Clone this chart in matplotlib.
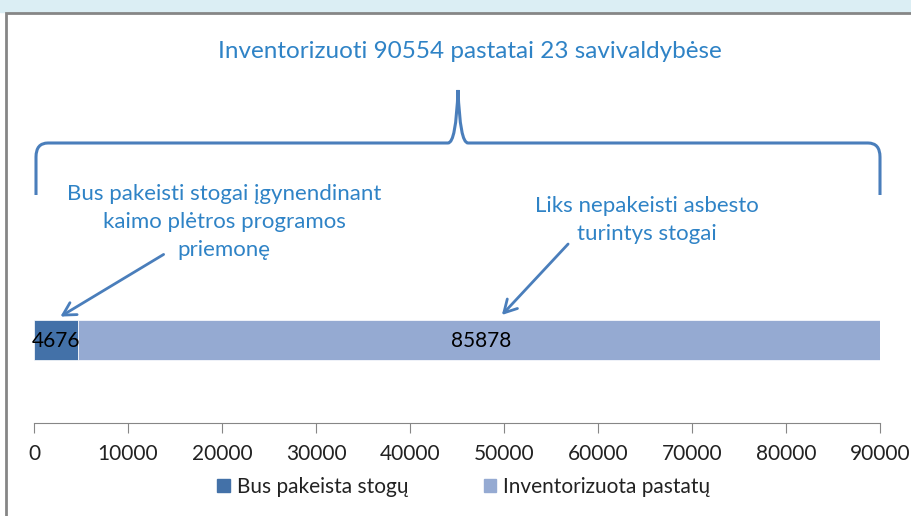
import numpy as np
import matplotlib.pyplot as plt
from matplotlib.path import Path
from matplotlib.patches import PathPatch, Rectangle, Patch

plt.rcParams['font.family'] = ['Lato', 'DejaVu Sans']

# data
series = ["Bus pakeista stogų", "Inventorizuota pastatų"]
values = [4676, 85878]
colors = ['#4371a8', '#95aad2']
title_txt = "Inventorizuoti 90554 pastatai 23 savivaldybėse"
note_left = "Bus pakeisti stogai įgynendinant\nkaimo plėtros programos\npriemonę"
note_right = "Liks nepakeisti asbesto\nturintys stogai"
xticks = np.arange(0, 90001, 10000)

W, H = 912, 516
fig = plt.figure(figsize=(W / 100, H / 100), dpi=100)

# overlay in pixel coords for frame, brace, notes
ov = fig.add_axes([0, 0, 1, 1])
ov.set_xlim(0, W)
ov.set_ylim(H, 0)
ov.axis('off')
ov.add_patch(Rectangle((0, 0), W, 12, color='#dbeef4', zorder=0))
ov.add_patch(Rectangle((6, 13), W + 20, H + 20, facecolor='white',
                       edgecolor='#868686', lw=2, zorder=0.5))

# bar axes
ax = fig.add_axes([34 / W, 93 / H, 846 / W, 123 / H])
ax.set_facecolor('none')
left = 0
for v, c, lab in zip(values, colors, series):
    ax.barh(0, v, left=left, height=0.8, color=c, edgecolor='white', lw=0.5, label=lab)
    ax.text(left + v / 2, -0.02, str(v), ha='center', va='center', fontsize=15, color='black')
    left += v
ax.set_xlim(0, 90000)
ax.set_ylim(-1.66, 0.8)
ax.set_xticks(xticks)
ax.set_xticklabels([str(t) for t in xticks], fontsize=15, color='#222222')
ax.set_yticks([])
for s in ['top', 'right', 'left']:
    ax.spines[s].set_visible(False)
ax.spines['bottom'].set_color('#868686')
ax.tick_params(axis='x', direction='out', length=7, color='#868686', pad=8)

handles = [Patch(color=c) for c in colors]
fig.legend(handles, series, loc='center', bbox_to_anchor=(464 / W, 1 - 487 / H),
           ncol=2, frameon=False, fontsize=15, handlelength=0.6, handleheight=0.6,
           handletextpad=0.35, columnspacing=3.6, labelcolor='#222222')

# brace
verts = [(36, 195), (36, 157), (36, 143), (48, 143), (448, 143),
         (456, 143), (458, 90), (460, 143), (468, 143), (868, 143),
         (880, 143), (880, 157), (880, 195)]
codes = [Path.MOVETO, Path.LINETO, Path.CURVE3, Path.CURVE3, Path.LINETO,
         Path.CURVE3, Path.CURVE3, Path.CURVE3, Path.CURVE3, Path.LINETO,
         Path.CURVE3, Path.CURVE3, Path.LINETO]
ov.add_patch(PathPatch(Path(verts, codes), fill=False, edgecolor='#4a7ebb', lw=2.2, zorder=2))

tc = '#2f83c6'
ov.text(470, 52, title_txt, ha='center', va='center', fontsize=17.5, color=tc)
ov.text(224, 222, note_left, ha='center', va='center', fontsize=16, color=tc, linespacing=1.5)
ov.text(647, 220, note_right, ha='center', va='center', fontsize=16, color=tc, linespacing=1.5)

aprops = dict(arrowstyle='->,head_length=0.9,head_width=0.5', color='#4a7ebb', lw=2)
ov.annotate('', xy=(58, 318), xytext=(166, 253), arrowprops=aprops)
ov.annotate('', xy=(500, 317), xytext=(570, 242), arrowprops=aprops)

fig.savefig('out.png', dpi=100)
